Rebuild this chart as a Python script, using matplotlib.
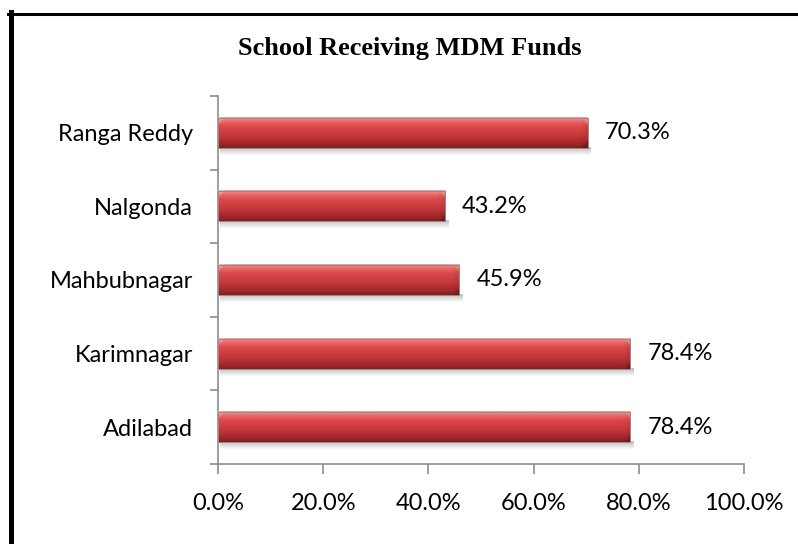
import numpy as np
import matplotlib.pyplot as plt
from matplotlib.lines import Line2D
from matplotlib.ticker import FuncFormatter

districts = ['Adilabad', 'Karimnagar', 'Mahbubnagar', 'Nalgonda', 'Ranga Reddy']
share = [78.4, 78.4, 45.9, 43.2, 70.3]
xticks = [0, 20, 40, 60, 80, 100]
title = 'School Receiving MDM Funds'

plt.rcParams['font.family'] = ['Lato', 'DejaVu Sans']

fig = plt.figure(figsize=(7.98, 5.44), dpi=100)
ax = fig.add_axes([218 / 798, 1 - 464 / 544, 526 / 798, 368 / 544])

bar_h = 0.41
px_x = 526 / 100.0   # pixels per x unit
px_y = 368 / 5.0     # pixels per y unit

# vertical colour profile of the bars (top -> bottom)
stops_t = [0.0, 0.12, 0.3, 0.6, 0.85, 1.0]
stops_c = np.array([[0.95, 0.60, 0.60],
                    [0.92, 0.42, 0.42],
                    [0.86, 0.28, 0.29],
                    [0.78, 0.22, 0.23],
                    [0.64, 0.16, 0.17],
                    [0.50, 0.13, 0.14]])

for i, v in enumerate(share):
    y0, y1 = i - bar_h / 2, i + bar_h / 2
    nr = 30
    nc = max(int(v * px_x), 10)
    t = np.linspace(0, 1, nr)
    col = np.stack([np.interp(t, stops_t, stops_c[:, k]) for k in range(3)], axis=1)
    img = np.repeat(col[:, None, :], nc, axis=1)
    # bevel at the right end (soft)
    bw = 8
    for r in range(nr):
        for c in range(nc - bw, nc):
            d = c - (nc - bw)
            f = (d + 1) / bw
            if r < d:
                img[r, c] = img[r, c] * (1 - 0.12 * f) + 0.12 * f
            elif r > nr - 1 - d:
                img[r, c] = img[r, c] * (1 - 0.25 * f)
            else:
                img[r, c] = img[r, c] * (1 - 0.08 * f)
    # bevel at the left end (light corner)
    for r in range(nr):
        for c in range(0, 7):
            if r < 7 - c:
                img[r, c] = img[r, c] * 0.8 + 0.2
    ax.imshow(img, extent=(0, v, y0, y1), origin='upper', aspect='auto',
              interpolation='bilinear', zorder=3)
    # soft shadow below
    sh = np.zeros((8, 2, 4))
    sh[:, :, :3] = 0.45
    sh[:, :, 3] = np.linspace(0.45, 0.0, 8)[:, None]
    ax.imshow(sh, extent=(0.3, v + 0.5, y0 - 8 / px_y, y0 + 1 / px_y), origin='upper',
              aspect='auto', interpolation='bilinear', zorder=2)
    ax.text(v + 17 / px_x, i, f'{v}%', va='center', ha='left', fontsize=17, zorder=4)

ax.barh(range(5), share, height=bar_h, color='none', edgecolor='#a08585',
        linewidth=0.7, zorder=4)

ax.set_xlim(0, 100)
ax.set_ylim(-0.5, 4.5)
ax.set_xticks(xticks)
ax.xaxis.set_major_formatter(FuncFormatter(lambda x, p: f'{x:.1f}%'))
ax.set_yticks(range(5))
ax.set_yticklabels(districts)
ax.set_yticks(np.arange(-0.5, 5, 1), minor=True)

for s in ['top', 'right']:
    ax.spines[s].set_visible(False)
for s in ['left', 'bottom']:
    ax.spines[s].set_color('#8c8c8c')
    ax.spines[s].set_linewidth(1.2)

ax.tick_params(axis='x', length=7, width=1.2, color='#8c8c8c', pad=14, labelsize=17)
ax.tick_params(axis='y', which='major', length=0, pad=18, labelsize=17)
ax.tick_params(axis='y', which='minor', length=6, width=1.2, color='#8c8c8c')

fig.text(410 / 798, 1 - 48 / 544, title, family='Liberation Serif', weight='bold',
         fontsize=19, ha='center', va='center')

# frame lines (left and top only)
fig.add_artist(Line2D([10.5 / 798, 10.5 / 798], [0, 1 - 12 / 544], lw=3.6,
                      color='black', transform=fig.transFigure))
fig.add_artist(Line2D([8 / 798, 1], [1 - 13.5 / 544, 1 - 13.5 / 544], lw=2.2,
                      color='black', transform=fig.transFigure))

fig.savefig('out.png', dpi=100)
